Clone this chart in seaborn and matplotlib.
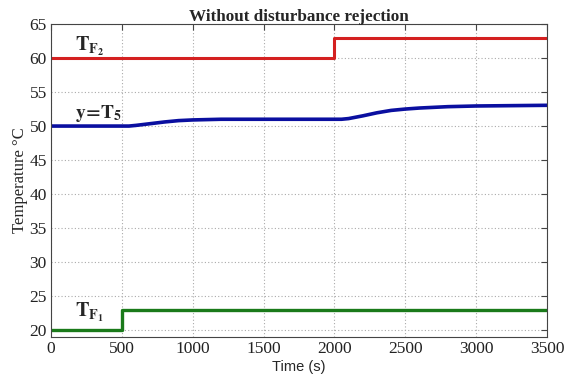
import numpy as np
import pandas as pd
import matplotlib
matplotlib.use("Agg")
import matplotlib.pyplot as plt
import seaborn as sns

# step inputs
t_f2 = [0, 2000, 3500]
tf2_vals = [60, 63, 63]
t_f1 = [0, 500, 3500]
tf1_vals = [20, 23, 23]

# output y = T5
t_y = [0, 500, 550, 600, 700, 800, 900, 1000, 1200, 1500, 2000, 2050, 2100, 2200,
       2300, 2400, 2500, 2600, 2800, 3000, 3250, 3500]
y_vals = [50, 50, 50, 50.1, 50.35, 50.6, 50.8, 50.9, 51, 51, 51, 51, 51.1, 51.5,
          51.95, 52.3, 52.5, 52.65, 52.85, 52.95, 53, 53.05]

xticks = [0, 500, 1000, 1500, 2000, 2500, 3000, 3500]
yticks = [20, 25, 30, 35, 40, 45, 50, 55, 60, 65]

sns.set_style("white")
plt.rcParams['font.family'] = ['Liberation Serif', 'DejaVu Serif']
plt.rcParams['mathtext.fontset'] = 'stix'

fig = plt.figure(figsize=(5.75, 3.79), dpi=100)
ax = fig.add_axes([0.0887, 0.1108, 0.8626, 0.8259])

sns.lineplot(x=t_f2, y=tf2_vals, ax=ax, color='#d42020', lw=2.2, drawstyle='steps-post')
sns.lineplot(x=t_y, y=y_vals, ax=ax, color='#0a0fa0', lw=2.6)
sns.lineplot(x=t_f1, y=tf1_vals, ax=ax, color='#1a7a1a', lw=2.4, drawstyle='steps-post')

ax.set_xlim(0, 3500)
ax.set_ylim(19, 65)
ax.set_xticks(xticks)
ax.set_yticks(yticks)
ax.tick_params(direction='in', labelsize=12.5, length=4, colors='#444444',
               top=True, right=True, pad=3)
for lab in ax.get_xticklabels() + ax.get_yticklabels():
    lab.set_color('#222222')
ax.grid(True, linestyle=(0, (1, 2)), color='#aaaaaa', lw=0.8)
for s in ax.spines.values():
    s.set_color('#444444')
    s.set_linewidth(0.8)

ax.text(170, 61.0, r'$\mathbf{T_{F_2}}$', fontsize=14.5)
ax.text(170, 51.2, r'$\mathbf{y\!=\!T_5}$', fontsize=14)
ax.text(170, 22.0, r'$\mathbf{T_{F_1}}$', fontsize=14.5)

ax.set_title('Without disturbance rejection', fontweight='bold', fontsize=12.3, pad=2)
ax.set_ylabel('Temperature °C', fontsize=12, labelpad=1)
ax.set_xlabel('Time (s)', fontsize=10.5, family='Liberation Sans', labelpad=2)

fig.savefig('out.png', dpi=100)
